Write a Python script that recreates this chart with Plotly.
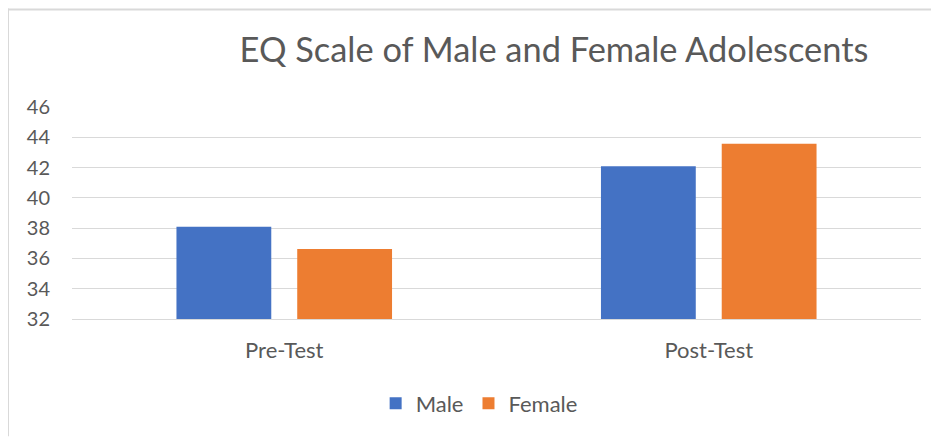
import plotly.graph_objects as go

categories = ["Pre-Test", "Post-Test"]
male = [38.09, 42.09]
female = [36.62, 43.57]
y_ticks = [32, 34, 36, 38, 40, 42, 44, 46]

# page body has an 8px margin, so the figure is drawn 8px in from the window edge
OFF = 8
W, H = 939 - OFF, 437 - OFF
L, R, T, B = 64, 18.3, 98.7, 117.7
pw = W - L - R
ph = H - T - B

def px_x(sx):
    return (sx - OFF - L) / pw

def px_y(sy):
    return (H - B - (sy - OFF)) / ph

FONT = "Lato"
GREY = "#595959"

fig = go.Figure()
fig.add_trace(go.Bar(name="Male", x=categories, y=male, marker=dict(color="#4472C4", line=dict(width=0))))
fig.add_trace(go.Bar(name="Female", x=categories, y=female, marker=dict(color="#ED7D31", line=dict(width=0))))

fig.update_layout(
    width=W, height=H,
    margin=dict(l=L, r=R, t=T, b=B, pad=0),
    paper_bgcolor="white", plot_bgcolor="white",
    barmode="group", bargap=0.431, bargroupgap=0.215,
    font=dict(family=FONT, color=GREY, size=20),
    title=dict(text="EQ Scale of Male and Female Adolescents", x=(554 - OFF) / W, xanchor="center",
               y=1 - (50 - OFF) / H, yanchor="middle", font=dict(size=34.4, color=GREY, family=FONT)),
    showlegend=True,
    legend=dict(orientation="h", x=px_x(479), xanchor="center", y=px_y(404), yanchor="middle",
                font=dict(size=22, color=GREY), itemwidth=30, traceorder="normal"),
    xaxis=dict(showline=True, linecolor="#d9d9d9", linewidth=1, ticks="",
               tickfont=dict(size=22, color=GREY), ticklabelstandoff=12),
    yaxis=dict(range=[32, 46], tickvals=y_ticks, showgrid=True, gridcolor="#d9d9d9", gridwidth=1,
               zeroline=False, showline=False, ticks="", ticklabelstandoff=21,
               tickfont=dict(size=20, color=GREY)),
    shapes=[
        dict(type="line", xref="paper", yref="paper", x0=px_x(8), x1=px_x(8), y0=px_y(8), y1=px_y(437),
             line=dict(color="#d9d9d9", width=2)),
        dict(type="line", xref="paper", yref="paper", x0=px_x(8), x1=px_x(939), y0=px_y(9), y1=px_y(9),
             line=dict(color="#d9d9d9", width=2)),
    ],
)

fig.write_html("out.html")
